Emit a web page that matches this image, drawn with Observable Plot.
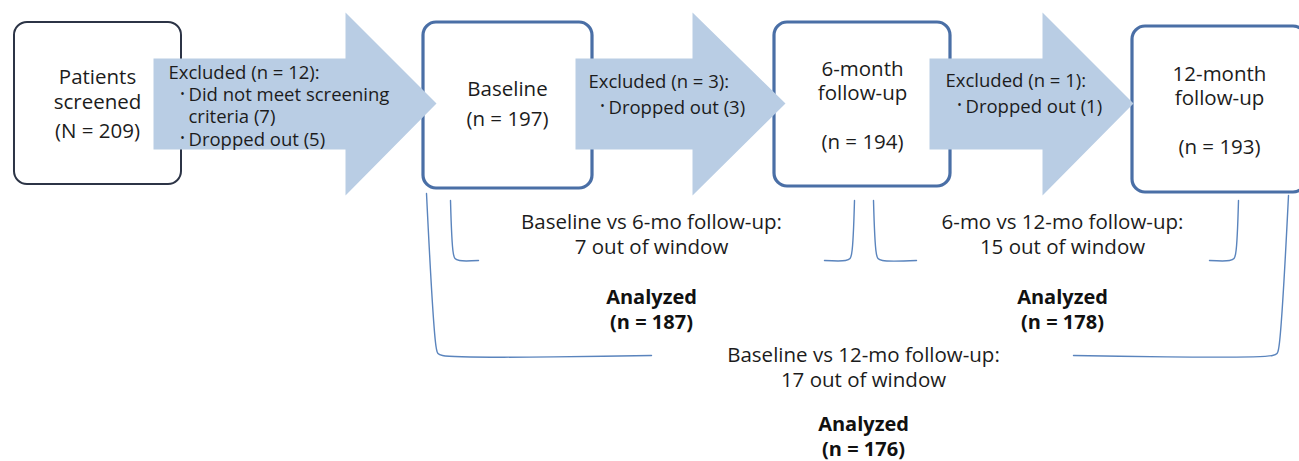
<!DOCTYPE html>
<html>
<head>
<meta charset="utf-8">
<script src="https://cdn.jsdelivr.net/npm/d3@7"></script>
<script src="https://cdn.jsdelivr.net/npm/@observablehq/plot@0.6"></script>
<style>
  html, body { margin: 0; padding: 0; background: #fff; }
  #chart svg { display: block; }
</style>
</head>
<body>
<div id="chart"></div>
<script>
// ---- data ----
const stageLabels = ["Patients\nscreened", "Baseline", "6-month\nfollow-up", "12-month\nfollow-up"];
const stageNSymbol = ["N", "n", "n", "n"];
const stageN = [209, 197, 194, 193];
const excludedN = [12, 3, 1];
const exclusionReasons = [
  ["Did not meet screening\ncriteria (7)", "Dropped out (5)"],
  ["Dropped out (3)"],
  ["Dropped out (1)"]
];
const comparisonLabels = ["Baseline vs 6-mo follow-up:", "6-mo vs 12-mo follow-up:", "Baseline vs 12-mo follow-up:"];
const outOfWindow = [7, 15, 17];
const analyzedN = [187, 178, 176];

// ---- layout (positions in pixel units of the identity scales) ----
const W = 1299, H = 461;
const boxLeft   = [14, 423, 774, 1132];
const boxRight  = [181, 592, 950, 1306];
const boxTop    = [22, 22, 22, 26];
const boxBottom = [184, 188, 186, 192];
const boxStroke = ["#2c3446", "#4a6fa6", "#4a6fa6", "#4a6fa6"];
const boxStrokeW = [2, 3.2, 3.2, 3.2];
const stageLabelY = [88, 88, 79.5, 84.5];   // centre of the label block
const stageNY = [130, 118, 141, 146];
const stageCX = [97, 507, 862, 1219];
const FS_MAIN = 20.5, LH_MAIN = 24.5;

const arrowBodyLeft = [153, 575, 929];
const arrowHeadBase = [345, 692, 1042];
const arrowTip = [436, 785, 1133];
const arrowBodyTop = 58, arrowBodyBottom = 149, arrowHeadTop = 12, arrowHeadBottom = 195, arrowTipY = 103;
const arrowTextX = [168, 588, 945];
const arrowTextY0 = [71, 79, 78];
const arrowLineStep = [22.3, 26.5, 26.5];
const FS_ARROW = 18.5;

const brackets = [
  {side: "L", top: 450, bottom: 453, end: 478, y0: 200, y1: 260},
  {side: "R", top: 854, bottom: 851, end: 824, y0: 200, y1: 260},
  {side: "L", top: 873, bottom: 876, end: 916, y0: 200, y1: 260},
  {side: "R", top: 1238, bottom: 1235, end: 1209, y0: 200, y1: 260},
  {side: "L", top: 426, bottom: 436, end: 651, y0: 193, y1: 355},
  {side: "R", top: 1288, bottom: 1278, end: 1073, y0: 195, y1: 355}
];
const compCX = [651, 1062, 863];
const compY = [221, 221, 354];
const analyzedY = [296, 296, 423];

// ---- derived tables ----
const boxes = stageN.map((n, i) => ({x1: boxLeft[i], x2: boxRight[i], y1: boxTop[i], y2: boxBottom[i], s: boxStroke[i], w: boxStrokeW[i]}));

const arrowPts = [];
excludedN.forEach((n, i) => {
  const pts = [
    [arrowBodyLeft[i], arrowBodyTop], [arrowHeadBase[i], arrowBodyTop], [arrowHeadBase[i], arrowHeadTop],
    [arrowTip[i], arrowTipY], [arrowHeadBase[i], arrowHeadBottom], [arrowHeadBase[i], arrowBodyBottom],
    [arrowBodyLeft[i], arrowBodyBottom], [arrowBodyLeft[i], arrowBodyTop]
  ];
  pts.forEach(([x, y]) => arrowPts.push({id: i, x, y}));
});

const bracketPts = [];
brackets.forEach((b, i) => {
  const dir = b.side === "L" ? 1 : -1;
  const pts = [
    [b.top, b.y0], [b.bottom - dir * 0.3, b.y1 - 8], [b.bottom + dir * 1.5, b.y1 - 2], [b.bottom + dir * 6, b.y1], [b.end, b.y1]
  ];
  pts.forEach(([x, y]) => bracketPts.push({id: i, x, y}));
});

const centerRows = [];
stageLabels.forEach((t, i) => {
  centerRows.push({x: stageCX[i], y: stageLabelY[i], t});
  centerRows.push({x: stageCX[i], y: stageNY[i], t: `(${stageNSymbol[i]} = ${stageN[i]})`});
});
comparisonLabels.forEach((t, i) => {
  centerRows.push({x: compCX[i], y: compY[i] + LH_MAIN / 2, t: `${t}\n${outOfWindow[i]} out of window`});
});

const startRows = [];
const bulletRows = [];
excludedN.forEach((n, i) => {
  let k = 0;
  startRows.push({x: arrowTextX[i], y: arrowTextY0[i], t: `Excluded (n = ${n}):`, lh: arrowLineStep[i]});
  exclusionReasons[i].forEach(reason => {
    const nLines = reason.split("\n").length;
    const yFirst = arrowTextY0[i] + (k + 1) * arrowLineStep[i];
    bulletRows.push({x: arrowTextX[i] + 14, y: yFirst});
    startRows.push({x: arrowTextX[i] + 20, y: yFirst + (nLines - 1) * arrowLineStep[i] / 2, t: reason, lh: arrowLineStep[i]});
    k += nLines;
  });
});
const startRowsA = startRows.filter(d => d.lh < 24);
const startRowsB = startRows.filter(d => d.lh >= 24);

const boldRows = analyzedN.map((n, i) => ({x: compCX[i], y: analyzedY[i] + LH_MAIN / 2, t: `Analyzed\n(n = ${n})`}));

const chart = Plot.plot({
  width: W,
  height: H,
  margin: 0,
  x: {domain: [0, W], range: [0, W], axis: null},
  y: {domain: [0, H], range: [0, H], axis: null},
  style: {fontFamily: "'Open Sans', sans-serif", background: "#fff"},
  marks: [
    Plot.rect(boxes, {x1: "x1", x2: "x2", y1: "y1", y2: "y2", rx: 13, fill: "#fff", stroke: d => d.s, strokeWidth: d => d.w}),
    Plot.line(arrowPts, {x: "x", y: "y", z: "id", fill: "#b9cde4", stroke: "none", curve: "linear"}),
    Plot.line(bracketPts, {x: "x", y: "y", z: "id", stroke: "#5a84bd", strokeWidth: 1.4, curve: "catmull-rom"}),
    Plot.text(centerRows, {x: "x", y: "y", text: "t", textAnchor: "middle", fontSize: FS_MAIN, lineHeight: LH_MAIN / FS_MAIN, fill: "#1c1c1c", lineAnchor: "middle"}),
    Plot.text(startRowsA, {x: "x", y: "y", text: "t", textAnchor: "start", fontSize: FS_ARROW, lineHeight: 22.3 / FS_ARROW, fill: "#1c1c1c", lineAnchor: "middle"}),
    Plot.text(startRowsB, {x: "x", y: "y", text: "t", textAnchor: "start", fontSize: FS_ARROW, lineHeight: 26.5 / FS_ARROW, fill: "#1c1c1c", lineAnchor: "middle"}),
    Plot.text(bulletRows, {x: "x", y: "y", text: () => "•", textAnchor: "middle", fontSize: 12, fill: "#1c1c1c", lineAnchor: "middle"}),
    Plot.text(boldRows, {x: "x", y: "y", text: "t", textAnchor: "middle", fontSize: 20, lineHeight: LH_MAIN / 20, fontWeight: "bold", fill: "#111", lineAnchor: "middle"})
  ]
});
document.getElementById("chart").appendChild(chart);
</script>
</body>
</html>
